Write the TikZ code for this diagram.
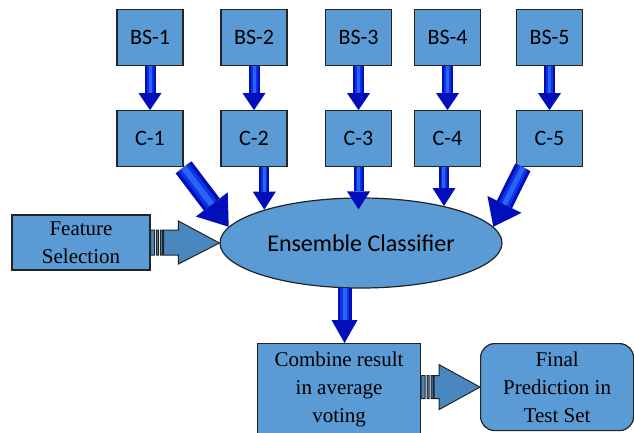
\documentclass[tikz,border=0pt]{standalone}
\usepackage{fontspec}
\setmainfont{Liberation Serif}
\newfontfamily\calibri{Carlito}
\usetikzlibrary{arrows.meta,shapes.geometric,positioning,calc}

\definecolor{boxblue}{RGB}{91,155,213}
\definecolor{arrblue}{RGB}{0,15,185}
\definecolor{arrmid}{RGB}{15,50,225}
\definecolor{arrlight}{RGB}{40,100,250}
\definecolor{steel}{RGB}{74,134,192}
\definecolor{edge}{RGB}{35,35,35}

\begin{document}
\begin{tikzpicture}[x=1pt, y=-1pt,
    box/.style={draw=edge, line width=1.2pt, fill=boxblue, minimum width=66pt,
        minimum height=56pt, inner sep=0pt, font=\calibri\fontsize{22}{24}\selectfont},
    serifbox/.style={box, align=center, font=\fontsize{21}{28}\selectfont},
    ellip/.style={ellipse, draw=edge, line width=1.2pt, fill=boxblue, minimum width=282pt,
        minimum height=90pt, inner sep=0pt, font=\calibri\fontsize{24}{26}\selectfont},
    blockarr/.style n args={5}{draw=arrblue, line width=#1,
        -{Triangle[width=#2, length=#3, line width=0pt]},
        postaction={draw=arrmid, line width=#4, -, shorten >=#3},
        postaction={draw=arrlight, line width=#5, -, shorten >=#3}},
    fatarr/.style={draw=edge, line width=1pt, fill=steel}]
    \useasboundingbox (0,0) rectangle (634,432);

    % Base classifiers
    \node[box] (bs1) at (150,37.5) {BS-1};
    \node[box] (bs2) at (254,37.5) {BS-2};
    \node[box] (bs3) at (358.5,37.5) {BS-3};
    \node[box] (bs4) at (447.5,37.5) {BS-4};
    \node[box] (bs5) at (549.5,37.5) {BS-5};
    \foreach \i in {1,...,5}
        \node[box, below=44pt of bs\i] (c\i) {C-\i};
    \foreach \i in {1,...,5}
        \draw[blockarr={11pt}{23pt}{17pt}{7pt}{3pt}] (bs\i) -- (c\i);

    % Ensemble
    \node[ellip] (ens) at (361,243) {Ensemble Classifier};
    \node[serifbox, minimum width=138pt, minimum height=55pt] (feat) at (81,242.5) {Feature\\Selection};
    \draw[blockarr={20pt}{40pt}{28pt}{13pt}{6pt}] (c1.south east) -- (ens.173);
    \draw[blockarr={10pt}{23pt}{18pt}{6pt}{3pt}] (ens.161 |- c2.south) -- (ens.161);
    \draw[blockarr={10pt}{23pt}{18pt}{6pt}{3pt}] (c3.south) -- ([yshift=-12pt]c3.south |- ens.north);
    \draw[blockarr={10pt}{23pt}{18pt}{6pt}{3pt}] (ens.24 |- c4.south) -- (ens.24);
    \draw[blockarr={17pt}{38pt}{25pt}{11pt}{5pt}] ([xshift=7pt]c5.south west) -- (ens.7);
    \filldraw[fatarr] let \p1=(feat.east), \p2=(ens.west) in
        (\x1,\y1-12.5pt) rectangle (\x1+4pt,\y1+12.5pt)
        (\x1+6pt,\y1-12.5pt) rectangle (\x1+8pt,\y1+12.5pt)
        (\x1+10pt,\y1-12.5pt) rectangle (\x1+12pt,\y1+12.5pt)
        (\x1+13pt,\y1-12.5pt) -- (\x2-41pt,\y1-12.5pt) -- (\x2-41pt,\y1-21.5pt)
        -- (\x2,\y2) -- (\x2-41pt,\y1+21.5pt) -- (\x2-41pt,\y1+12.5pt)
        -- (\x1+13pt,\y1+12.5pt) -- cycle;

    % Voting and prediction
    \node[serifbox, minimum width=163pt, minimum height=92pt, anchor=north west] (comb) at (257,343)
        {Combine result\\in average\\voting};
    \node[serifbox, minimum width=153pt, minimum height=87pt, rounded corners=14pt, anchor=north west]
        (fin) at (480,343) {Final\\Prediction in\\Test Set};
    \draw[blockarr={14pt}{26pt}{23pt}{9pt}{4pt}] (ens.250) -- (ens.250 |- comb.north);
    \filldraw[fatarr] let \p1=(comb.east |- fin.west), \p2=(fin.west) in
        (\x1,\y1-11.5pt) rectangle (\x1+4pt,\y1+11.5pt)
        (\x1+6pt,\y1-11.5pt) rectangle (\x1+8pt,\y1+11.5pt)
        (\x1+10pt,\y1-11.5pt) rectangle (\x1+12pt,\y1+11.5pt)
        (\x1+13pt,\y1-11.5pt) -- (\x2-41pt,\y1-11.5pt) -- (\x2-41pt,\y1-22.5pt)
        -- (\x2,\y2) -- (\x2-41pt,\y1+22.5pt) -- (\x2-41pt,\y1+11.5pt)
        -- (\x1+13pt,\y1+11.5pt) -- cycle;
\end{tikzpicture}
\end{document}
